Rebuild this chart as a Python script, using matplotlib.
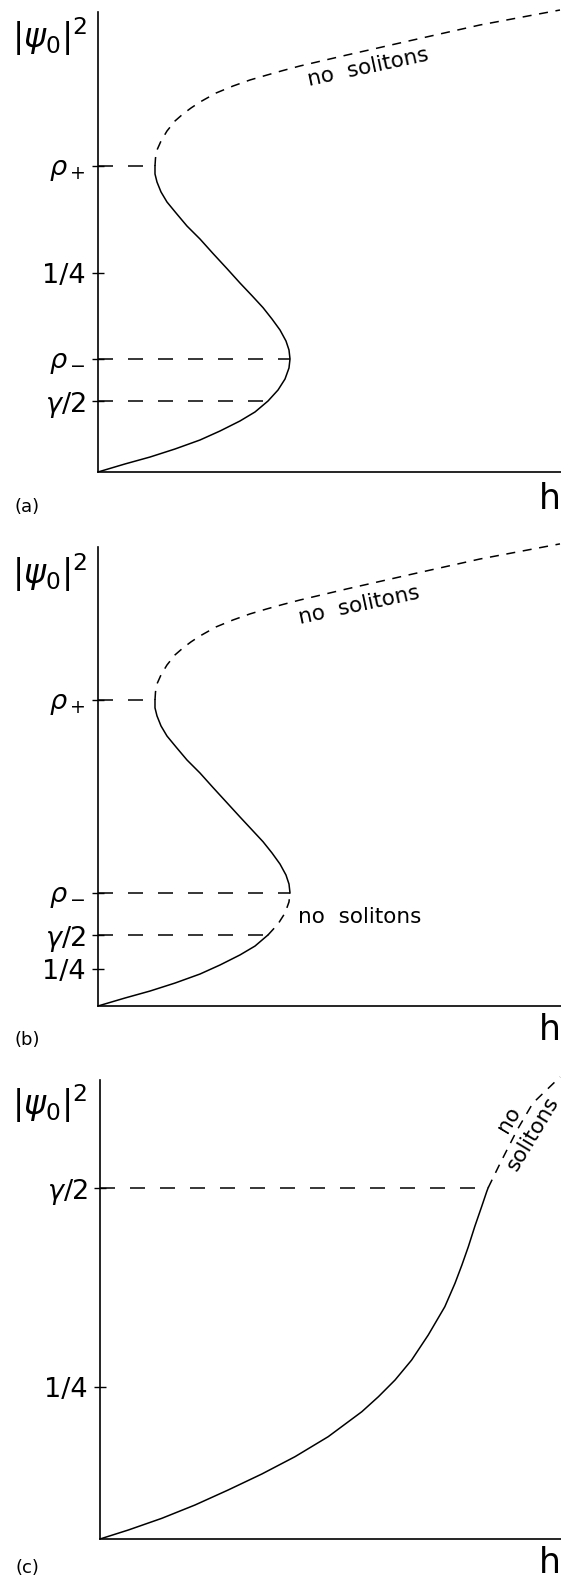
import matplotlib
matplotlib.use("Agg")
import matplotlib.pyplot as plt

plt.rcParams['font.family'] = ['DejaVu Sans']
plt.rcParams['mathtext.fontset'] = 'dejavusans'
plt.rcParams['lines.scale_dashes'] = False

W, H = 561, 1581

# ---- panel (a) ----
# stable branch: origin -> rho_-  (nose) -> rho_+
a_lo_h = [0.0, 0.0583, 0.1123, 0.1663, 0.2203, 0.2635, 0.3067, 0.3391, 0.3672, 0.3888,
          0.4039, 0.4125, 0.4147, 0.4125, 0.4060, 0.3931, 0.3758, 0.3564, 0.3326, 0.3067,
          0.2786, 0.2484, 0.2203, 0.1922, 0.1685, 0.1490, 0.1361, 0.1274, 0.1231, 0.1231]
a_lo_y = [0.0, 0.0101, 0.0188, 0.0289, 0.0402, 0.0515, 0.0641, 0.0754, 0.0892, 0.1030,
          0.1168, 0.1307, 0.1420, 0.1533, 0.1646, 0.1784, 0.1922, 0.2065, 0.2215, 0.2374,
          0.2555, 0.2745, 0.2927, 0.3090, 0.3254, 0.3392, 0.3518, 0.3643, 0.3744, 0.3844]
# upper branch above rho_+
a_up_h = [0.1231, 0.1242, 0.1274, 0.1361, 0.1490, 0.1663, 0.1836, 0.2009, 0.2203, 0.2549,
          0.2916, 0.3283, 0.3650, 0.3996, 0.4363, 0.5378, 0.6803, 0.8251, 0.9978]
a_up_y = [0.3844, 0.3945, 0.4045, 0.4158, 0.4284, 0.4410, 0.4498, 0.4573, 0.4648, 0.4761,
          0.4849, 0.4925, 0.4987, 0.5044, 0.5101, 0.5239, 0.5427, 0.5616, 0.5804]
a_levels = [0.0892, 0.1420, 0.25, 0.3844]
a_labels = [r'$\gamma/2$', r'$\rho_-$', '1/4', r'$\rho_+$']
a_lines = [(0.0892, 0.3672), (0.1420, 0.4147), (0.3844, 0.1231)]

# ---- panel (b) ----
b_s1_h = [0.0, 0.0583, 0.1123, 0.1663, 0.2203, 0.2635, 0.3067, 0.3391, 0.3672]
b_s1_y = [0.0, 0.054, 0.101, 0.155, 0.216, 0.277, 0.345, 0.405, 0.480]
b_d1_h = [0.3672, 0.3888, 0.4039, 0.4125, 0.4147]
b_d1_y = [0.480, 0.554, 0.628, 0.703, 0.764]
b_s2_h = [0.4147, 0.4125, 0.4060, 0.3931, 0.3758, 0.3564, 0.3326, 0.3067, 0.2786, 0.2484,
          0.2203, 0.1922, 0.1685, 0.1490, 0.1361, 0.1274, 0.1231, 0.1231]
b_s2_y = [0.764, 0.824, 0.885, 0.959, 1.034, 1.110, 1.190, 1.277, 1.373, 1.476,
          1.574, 1.662, 1.750, 1.824, 1.892, 1.960, 2.014, 2.068]
b_d2_h = [0.1231, 0.1242, 0.1274, 0.1361, 0.1490, 0.1663, 0.1836, 0.2009, 0.2203, 0.2549,
          0.2916, 0.3283, 0.3650, 0.3996, 0.4363, 0.5378, 0.6803, 0.8251, 0.9978]
b_d2_y = [2.068, 2.122, 2.176, 2.237, 2.304, 2.372, 2.419, 2.460, 2.500, 2.561,
          2.608, 2.649, 2.683, 2.713, 2.743, 2.818, 2.919, 3.020, 3.122]
b_levels = [0.25, 0.480, 0.764, 2.068]
b_labels = ['1/4', r'$\gamma/2$', r'$\rho_-$', r'$\rho_+$']
b_lines = [(0.480, 0.3672), (0.764, 0.4147), (2.068, 0.1231)]

# ---- panel (c) ----
c_s_h = [0.0, 0.0615, 0.134, 0.206, 0.278, 0.351, 0.423, 0.495, 0.568, 0.604, 0.640,
         0.676, 0.712, 0.748, 0.770, 0.785, 0.799, 0.813, 0.828, 0.839, 0.842]
c_s_y = [0.0, 0.0148, 0.0340, 0.0559, 0.0806, 0.1069, 0.1354, 0.1683, 0.2094, 0.2341, 0.2615,
         0.2944, 0.3355, 0.3821, 0.4205, 0.4506, 0.4808, 0.5141, 0.5470, 0.5717, 0.5777]
c_d_h = [0.842, 0.868, 0.905, 0.939, 0.998]
c_d_y = [0.5777, 0.618, 0.673, 0.717, 0.760]
c_levels = [0.25, 0.5777]
c_labels = ['1/4', r'$\gamma/2$']
c_lines = [(0.5777, 0.842)]

fig = plt.figure(figsize=(W / 100, H / 100), dpi=100)


def px_axes(left, top, right, bottom):
    return fig.add_axes([left / W, 1 - bottom / H, (right - left) / W, (bottom - top) / H])


def ftext(x, y, s, **kw):
    fig.text(x / W, 1 - y / H, s, **kw)


LW = 1.1
REF_DASH = (0, (10.8, 10.8))
CURVE_DASH = (0, (6.5, 5.5))
NOTE = 15.5


def setup(ax, ytop, levels, labels, lines):
    ax.set_xlim(0, 1)
    ax.set_ylim(0, ytop)
    for s in ['top', 'right']:
        ax.spines[s].set_visible(False)
    for s in ['left', 'bottom']:
        ax.spines[s].set_linewidth(1.2)
    ax.set_xticks([])
    ax.set_yticks(levels)
    ax.set_yticklabels(labels)
    ax.tick_params(axis='y', direction='inout', length=8, width=1, labelsize=19.5, pad=5)
    for y, x in lines:
        ax.plot([0, x], [y, y], color='k', lw=LW, linestyle=REF_DASH)


axa = px_axes(98, 12, 561, 472)
setup(axa, 0.5779, a_levels, a_labels, a_lines)
axa.plot(a_lo_h, a_lo_y, color='k', lw=LW)
axa.plot(a_up_h, a_up_y, color='k', lw=LW, linestyle=CURVE_DASH, clip_on=False)
axa.text(0.583, 0.509, 'no  solitons', fontsize=NOTE, rotation=12,
         ha='center', va='center', rotation_mode='anchor')

axb = px_axes(98, 547, 561, 1006)
setup(axb, 3.101, b_levels, b_labels, b_lines)
axb.plot(b_s1_h, b_s1_y, color='k', lw=LW)
axb.plot(b_d1_h, b_d1_y, color='k', lw=LW, linestyle=CURVE_DASH)
axb.plot(b_s2_h, b_s2_y, color='k', lw=LW)
axb.plot(b_d2_h, b_d2_y, color='k', lw=LW, linestyle=CURVE_DASH, clip_on=False)
axb.text(0.564, 2.705, 'no  solitons', fontsize=NOTE, rotation=12,
         ha='center', va='center', rotation_mode='anchor')
axb.text(0.432, 0.601, 'no  solitons', fontsize=NOTE, ha='left', va='center')

axc = px_axes(100, 1080, 561, 1539)
setup(axc, 0.755, c_levels, c_labels, c_lines)
axc.plot(c_s_h, c_s_y, color='k', lw=LW)
axc.plot(c_d_h, c_d_y, color='k', lw=LW, linestyle=CURVE_DASH, clip_on=False)
axc.text(0.913, 0.679, 'no\nsolitons', fontsize=NOTE, rotation=59, linespacing=1.5,
         ha='center', va='center', rotation_mode='anchor', multialignment='center')

for ylab, yh, ytag, tag in [(37, 499, 507, '(a)'),
                            (573, 1030, 1040, '(b)'),
                            (1104, 1563, 1568, '(c)')]:
    ftext(50, ylab, r'$|\psi_0|^2$', fontsize=24, ha='center', va='center')
    ftext(550, yh, 'h', fontsize=25, ha='center', va='center')
    ftext(27, ytag, tag, fontsize=13, ha='center', va='center')

fig.savefig('out.png', dpi=100)
